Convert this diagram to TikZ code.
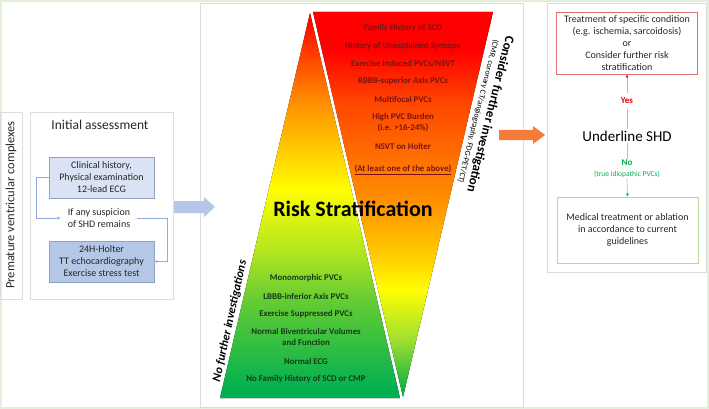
\documentclass[tikz,border=0pt]{standalone}
\usepackage{fontspec}
\setmainfont{Carlito}
\usetikzlibrary{arrows.meta}

\definecolor{outergreen}{HTML}{E2EFD9}
\definecolor{panelgray}{HTML}{DCDCDC}
\definecolor{boxonefill}{HTML}{DAE3F3}
\definecolor{boxtwofill}{HTML}{B4C7E7}
\definecolor{boxline}{HTML}{8FA2C4}
\definecolor{flowblue}{HTML}{8FAADC}
\definecolor{bigblue}{HTML}{B4C7E7}
\definecolor{bigorange}{HTML}{F47B3A}
\definecolor{rtxt}{HTML}{7A1410}
\definecolor{gtxt}{HTML}{163A16}
\definecolor{darktxt}{HTML}{262626}
\definecolor{redbox}{HTML}{E07070}
\definecolor{redline}{HTML}{F0A0A0}
\definecolor{yesred}{HTML}{E00000}
\definecolor{greenbox}{HTML}{B5D89C}
\definecolor{greenline}{HTML}{A9D18E}
\definecolor{nogreen}{HTML}{00B050}
% shading colours
\definecolor{sA}{HTML}{FF0000}
\definecolor{sB}{HTML}{FF2000}
\definecolor{sC}{HTML}{FF8C00}
\definecolor{sD}{HTML}{FFCC00}
\definecolor{sE}{HTML}{FFFF00}
\definecolor{sF}{HTML}{B4E61E}
\definecolor{sG}{HTML}{66CC33}
\definecolor{sH}{HTML}{00B050}
\definecolor{dB}{HTML}{FF4400}
\definecolor{dC}{HTML}{FF9000}
\definecolor{dD}{HTML}{FFD000}
\definecolor{dF}{HTML}{A0E030}
\definecolor{dH}{HTML}{10B040}

\pgfdeclareverticalshading{upshade}{100bp}{color(0bp)=(sH); color(26bp)=(sH); color(37.8bp)=(sG); color(44.2bp)=(sF); color(52bp)=(sE); color(57.2bp)=(sD); color(63.7bp)=(sC); color(72bp)=(sB); color(75bp)=(sA); color(100bp)=(sA)}
\pgfdeclareverticalshading{downshade}{100bp}{color(0bp)=(dH); color(26bp)=(dH); color(32.5bp)=(dF); color(39bp)=(sE); color(43bp)=(dD); color(50.5bp)=(dC); color(63.5bp)=(dB); color(70bp)=(sA); color(100bp)=(sA)}

\begin{document}
\begin{tikzpicture}[x=1pt,y=-1pt,
  panel/.style={draw=panelgray, line width=0.8pt},
  rtext/.style={font=\bfseries\fontsize{8.8}{10.5}\selectfont, text=rtxt, align=center, inner sep=0pt},
  gtext/.style={font=\bfseries\fontsize{8.8}{11.5}\selectfont, text=gtxt, align=center, inner sep=0pt},
  bluebox/.style={draw=boxline, line width=0.6pt, minimum width=105pt, minimum height=41pt, align=center, font=\fontsize{10}{12}\selectfont, text=darktxt, inner sep=0pt},
  flow/.style={draw=flowblue, line width=0.6pt, -{Latex[length=3pt,width=3pt]}},
  outbox/.style={line width=0.7pt, minimum width=141pt, align=center, font=\fontsize{10}{12}\selectfont, text=darktxt, inner sep=0pt}
]
\useasboundingbox (0,0) rectangle (709,409);
% frame and panels
\draw[outergreen, line width=2pt] (1,1) rectangle (708,408);
\draw[panel] (200,3) rectangle (523,407);
\draw[panel] (547,3) rectangle (706,272);
\draw[panel] (0.5,112) rectangle (22,299);
\draw[panel] (30,112) rectangle (173,299);

% left part
\node[rotate=90, font=\fontsize{12.5}{14}\selectfont, text=darktxt] (pvc) at (11,205) {Premature ventricular complexes};
\node[font=\fontsize{13.5}{16}\selectfont, text=darktxt] (init) at (100,125) {Initial assessment};
\node[bluebox, fill=boxonefill] (b1) at (101.5,177.5) {Clinical history,\\Physical examination\\12-lead ECG};
\node[align=center, font=\fontsize{10}{12}\selectfont, text=darktxt, inner xsep=7pt, inner ysep=0pt] (susp) at (99,218) {If any suspicion\\of SHD remains};
\node[bluebox, fill=boxtwofill] (b2) at (101.5,261.5) {24H-Holter\\TT echocardiography\\Exercise stress test};
\draw[flow] (b1.west) -- ++(-12,0) |- (susp.west);
\draw[flow] (susp.east) -- (167,218) |- (b2.east);

% big blue arrow
\fill[bigblue] (174,201) -- (204,201) -- (204,197) -- (215,207) -- (204,217) -- (204,213) -- (174,213) -- cycle;

% triangles
\fill[shading=upshade] (220,398) -- (400,398) -- (310,13) -- cycle;
\fill[shading=downshade] (313,12) -- (493,12) -- (403,397) -- cycle;

% red triangle texts
\node[rtext] (r1) at (403,28) {Family History of SCD};
\node[rtext] (r2) at (403,46) {History of Unexplained Syncope};
\node[rtext] (r3) at (403,63.5) {Exercise Induced PVCs/NSVT};
\node[rtext] (r4) at (403,81) {RBBB-superior Axis PVCs};
\node[rtext] (r5) at (403,99) {Multifocal PVCs};
\node[rtext] (r6) at (403,122.5) {High PVC Burden\\(i.e. >16-24\%)};
\node[rtext] (r7) at (403,146) {NSVT on Holter};
\node[rtext] (r8) at (403,169.5) {\underline{(At least one of the above)}};

% green triangle texts
\node[gtext] (g1) at (306,278.5) {Monomorphic PVCs};
\node[gtext] (g2) at (306,296) {LBBB-inferior Axis PVCs};
\node[gtext] (g3) at (306,314) {Exercise Suppressed PVCs};
\node[gtext] (g4) at (306,337) {Normal Biventricular Volumes\\and Function};
\node[gtext] (g5) at (306,361) {Normal ECG};
\node[gtext] (g6) at (306,379) {No Family History of SCD or CMP};

\node[font=\bfseries\fontsize{22}{24}\selectfont, text=black] (risk) at (353,209) {Risk Stratification};

\node[rotate=77.7, font=\bfseries\itshape\fontsize{12}{14}\selectfont, text=black] (nofur) at (230,321) {No further investigations};
\node[rotate=-104, align=center, text=black, inner sep=0pt] (consider) at (485,113) {{\bfseries\fontsize{13}{14}\selectfont Consider further investigation}\\[-1pt]{\fontsize{8}{9}\selectfont (CMR, coronary CT/angiography, FDG-PET/CT)}};

% orange arrow
\fill[bigorange] (499,130) -- (533,130) -- (533,126) -- (545,135) -- (533,144) -- (533,140) -- (499,140) -- cycle;

% right part
\node[outbox, draw=redbox, minimum height=62pt] (rb) at (627,43) {Treatment of specific condition\\(e.g. ischemia, sarcoidosis)\\or\\Consider further risk\\stratification};
\node[font=\fontsize{15}{17}\selectfont, text=black, inner sep=2pt] (shd) at (627,136) {Underline SHD};
\node[font=\bfseries\fontsize{9}{10}\selectfont, text=yesred, inner sep=5pt] (yes) at (627,101) {Yes};
\draw[redline, line width=0.7pt] (shd.north) -- (yes.south);
\draw[redline, line width=0.7pt, -{Latex[length=3pt,width=3pt,color=yesred]}] (yes.north) -- (rb.south);
\node[font=\bfseries\fontsize{9}{10}\selectfont, text=nogreen, inner sep=1pt] (no) at (627,163) {No};
\node[font=\fontsize{7.5}{9}\selectfont, text=nogreen, inner sep=1pt] (idio) at (627,174) {(true idiopathic PVCs)};
\draw[greenline, line width=0.7pt] (shd.south) -- (no.north);
\node[outbox, draw=greenbox, minimum height=66pt] (gb) at (627.5,230) {Medical treatment or ablation\\in accordance to current\\guidelines};
\draw[greenline, line width=0.7pt, -{Latex[length=3pt,width=3pt,color=nogreen]}] (idio.south) -- (gb.north);
\end{tikzpicture}
\end{document}
